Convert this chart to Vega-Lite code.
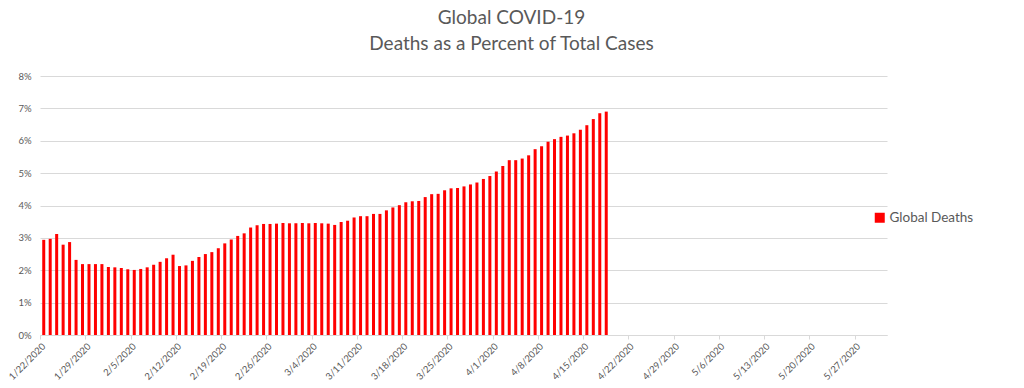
{
  "$schema": "https://vega.github.io/schema/vega-lite/v6.json",
  "width": 847,
  "height": 259,
  "autosize": {"type": "none"},
  "padding": {"left": 40, "top": 76, "right": 137, "bottom": 53},
  "background": "white",
  "title": {
    "text": ["Global COVID-19", "Deaths as a Percent of Total Cases"],
    "font": "Lato",
    "fontSize": 19,
    "fontWeight": "normal",
    "color": "#595959",
    "anchor": "middle",
    "dx": 48,
    "offset": 17,
    "lineHeight": 25.7
  },
  "data": {
    "values": [
      {"date": "2020-01-22", "pct": 0.0294},
      {"date": "2020-01-23", "pct": 0.0297},
      {"date": "2020-01-24", "pct": 0.0312},
      {"date": "2020-01-25", "pct": 0.0279},
      {"date": "2020-01-26", "pct": 0.0287},
      {"date": "2020-01-27", "pct": 0.0232},
      {"date": "2020-01-28", "pct": 0.0219},
      {"date": "2020-01-29", "pct": 0.0219},
      {"date": "2020-01-30", "pct": 0.0219},
      {"date": "2020-01-31", "pct": 0.0219},
      {"date": "2020-02-01", "pct": 0.0210},
      {"date": "2020-02-02", "pct": 0.0209},
      {"date": "2020-02-03", "pct": 0.0207},
      {"date": "2020-02-04", "pct": 0.0203},
      {"date": "2020-02-05", "pct": 0.0201},
      {"date": "2020-02-06", "pct": 0.0204},
      {"date": "2020-02-07", "pct": 0.0209},
      {"date": "2020-02-08", "pct": 0.0217},
      {"date": "2020-02-09", "pct": 0.0226},
      {"date": "2020-02-10", "pct": 0.0237},
      {"date": "2020-02-11", "pct": 0.0248},
      {"date": "2020-02-12", "pct": 0.0213},
      {"date": "2020-02-13", "pct": 0.0215},
      {"date": "2020-02-14", "pct": 0.0229},
      {"date": "2020-02-15", "pct": 0.0241},
      {"date": "2020-02-16", "pct": 0.0250},
      {"date": "2020-02-17", "pct": 0.0256},
      {"date": "2020-02-18", "pct": 0.0268},
      {"date": "2020-02-19", "pct": 0.0283},
      {"date": "2020-02-20", "pct": 0.0295},
      {"date": "2020-02-21", "pct": 0.0306},
      {"date": "2020-02-22", "pct": 0.0314},
      {"date": "2020-02-23", "pct": 0.0332},
      {"date": "2020-02-24", "pct": 0.0339},
      {"date": "2020-02-25", "pct": 0.0343},
      {"date": "2020-02-26", "pct": 0.0343},
      {"date": "2020-02-27", "pct": 0.0344},
      {"date": "2020-02-28", "pct": 0.0346},
      {"date": "2020-02-29", "pct": 0.0345},
      {"date": "2020-03-01", "pct": 0.0345},
      {"date": "2020-03-02", "pct": 0.0346},
      {"date": "2020-03-03", "pct": 0.0345},
      {"date": "2020-03-04", "pct": 0.0346},
      {"date": "2020-03-05", "pct": 0.0345},
      {"date": "2020-03-06", "pct": 0.0344},
      {"date": "2020-03-07", "pct": 0.0340},
      {"date": "2020-03-08", "pct": 0.0349},
      {"date": "2020-03-09", "pct": 0.0353},
      {"date": "2020-03-10", "pct": 0.0363},
      {"date": "2020-03-11", "pct": 0.0367},
      {"date": "2020-03-12", "pct": 0.0367},
      {"date": "2020-03-13", "pct": 0.0374},
      {"date": "2020-03-14", "pct": 0.0374},
      {"date": "2020-03-15", "pct": 0.0385},
      {"date": "2020-03-16", "pct": 0.0394},
      {"date": "2020-03-17", "pct": 0.0401},
      {"date": "2020-03-18", "pct": 0.0410},
      {"date": "2020-03-19", "pct": 0.0413},
      {"date": "2020-03-20", "pct": 0.0414},
      {"date": "2020-03-21", "pct": 0.0426},
      {"date": "2020-03-22", "pct": 0.0435},
      {"date": "2020-03-23", "pct": 0.0436},
      {"date": "2020-03-24", "pct": 0.0447},
      {"date": "2020-03-25", "pct": 0.0453},
      {"date": "2020-03-26", "pct": 0.0454},
      {"date": "2020-03-27", "pct": 0.0459},
      {"date": "2020-03-28", "pct": 0.0465},
      {"date": "2020-03-29", "pct": 0.0471},
      {"date": "2020-03-30", "pct": 0.0482},
      {"date": "2020-03-31", "pct": 0.0491},
      {"date": "2020-04-01", "pct": 0.0505},
      {"date": "2020-04-02", "pct": 0.0522},
      {"date": "2020-04-03", "pct": 0.0540},
      {"date": "2020-04-04", "pct": 0.0540},
      {"date": "2020-04-05", "pct": 0.0545},
      {"date": "2020-04-06", "pct": 0.0555},
      {"date": "2020-04-07", "pct": 0.0574},
      {"date": "2020-04-08", "pct": 0.0583},
      {"date": "2020-04-09", "pct": 0.0597},
      {"date": "2020-04-10", "pct": 0.0605},
      {"date": "2020-04-11", "pct": 0.0612},
      {"date": "2020-04-12", "pct": 0.0616},
      {"date": "2020-04-13", "pct": 0.0623},
      {"date": "2020-04-14", "pct": 0.0634},
      {"date": "2020-04-15", "pct": 0.0648},
      {"date": "2020-04-16", "pct": 0.0667},
      {"date": "2020-04-17", "pct": 0.0685},
      {"date": "2020-04-18", "pct": 0.0690}
    ]
  },
  "mark": {"type": "bar", "color": "#ff0000", "width": {"band": 0.62}},
  "encoding": {
    "x": {
      "field": "date",
      "type": "temporal",
      "timeUnit": "utcyearmonthdate",
      "scale": {
        "domain": [
          {"year": 2020, "month": 1, "date": 22, "utc": true},
          {"year": 2020, "month": 6, "date": 1, "utc": true}
        ]
      },
      "axis": {
        "title": null,
        "grid": false,
        "values": [
          {"year": 2020, "month": 1, "date": 22, "utc": true},
          {"year": 2020, "month": 1, "date": 29, "utc": true},
          {"year": 2020, "month": 2, "date": 5, "utc": true},
          {"year": 2020, "month": 2, "date": 12, "utc": true},
          {"year": 2020, "month": 2, "date": 19, "utc": true},
          {"year": 2020, "month": 2, "date": 26, "utc": true},
          {"year": 2020, "month": 3, "date": 4, "utc": true},
          {"year": 2020, "month": 3, "date": 11, "utc": true},
          {"year": 2020, "month": 3, "date": 18, "utc": true},
          {"year": 2020, "month": 3, "date": 25, "utc": true},
          {"year": 2020, "month": 4, "date": 1, "utc": true},
          {"year": 2020, "month": 4, "date": 8, "utc": true},
          {"year": 2020, "month": 4, "date": 15, "utc": true},
          {"year": 2020, "month": 4, "date": 22, "utc": true},
          {"year": 2020, "month": 4, "date": 29, "utc": true},
          {"year": 2020, "month": 5, "date": 6, "utc": true},
          {"year": 2020, "month": 5, "date": 13, "utc": true},
          {"year": 2020, "month": 5, "date": 20, "utc": true},
          {"year": 2020, "month": 5, "date": 27, "utc": true}
        ],
        "labelExpr": "utcFormat(datum.value, '%-m/%-d/%Y')",
        "labelAngle": -45,
        "labelFont": "Lato",
        "labelFontSize": 9.5,
        "labelColor": "#595959",
        "labelPadding": 2,
        "labelOverlap": false,
        "labelFlush": false,
        "labelBound": false,
        "domainColor": "#d9d9d9",
        "tickColor": "#d9d9d9",
        "tickSize": 4
      }
    },
    "y": {
      "field": "pct",
      "type": "quantitative",
      "scale": {"domain": [0, 0.08]},
      "axis": {
        "title": null,
        "values": [0, 0.01, 0.02, 0.03, 0.04, 0.05, 0.06, 0.07, 0.08],
        "format": ".0%",
        "domain": false,
        "ticks": false,
        "gridColor": "#d9d9d9",
        "labelFont": "Lato",
        "labelFontSize": 9.5,
        "labelColor": "#595959",
        "labelPadding": 9
      }
    },
    "color": {
      "datum": "Global Deaths",
      "scale": {"range": ["#ff0000"]},
      "legend": {
        "title": null,
        "orient": "none",
        "legendX": 833,
        "legendY": 135,
        "symbolType": "square",
        "symbolSize": 100,
        "symbolFillColor": "#ff0000",
        "symbolStrokeWidth": 0,
        "labelFont": "Lato",
        "labelFontSize": 13.5,
        "labelColor": "#595959",
        "labelOffset": 3
      }
    }
  },
  "config": {"view": {"stroke": null}, "font": "Lato"}
}
